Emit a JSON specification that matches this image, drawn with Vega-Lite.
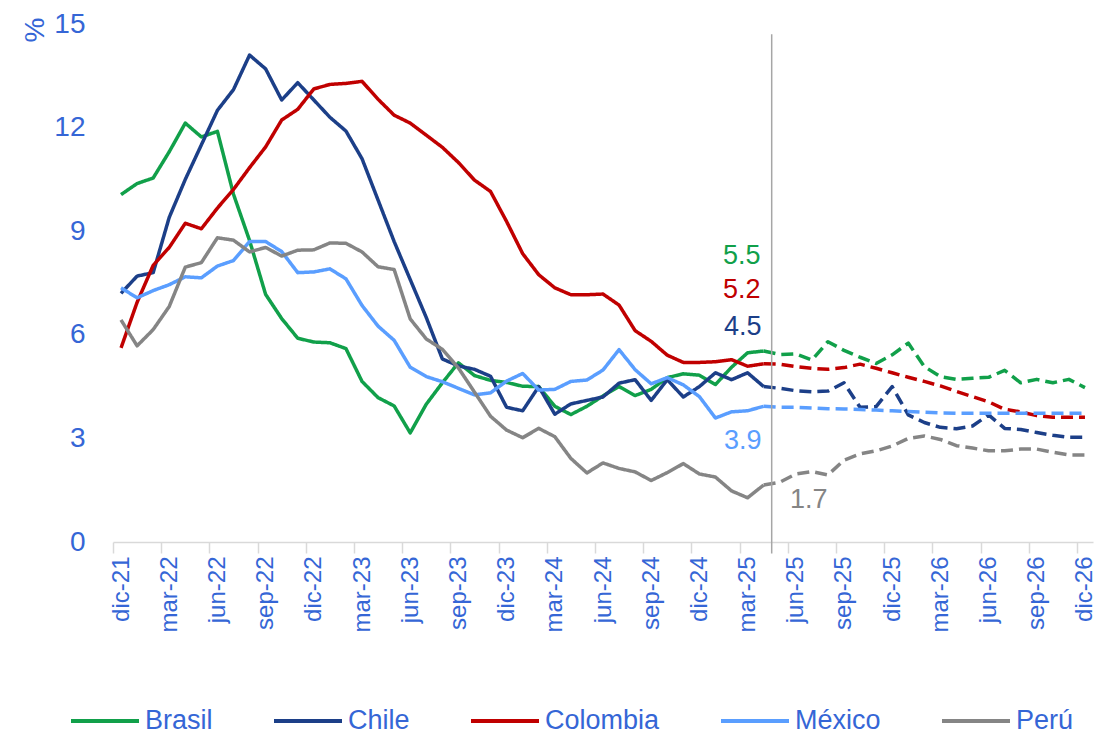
{
"$schema": "https://vega.github.io/schema/vega-lite/v6.json",
"width": 980,
"height": 518,
"autosize": {"type": "none"},
"padding": {"left": 113, "top": 24, "right": 9, "bottom": 194},
"background": "white",
"config": {"font": "Liberation Sans", "view": {"stroke": null}},
"datasets": {
"series": [
{"country":"Brasil","idx":0,"value":10.06,"kind":"actual"},{"country":"Brasil","idx":1,"value":10.38,"kind":"actual"},{"country":"Brasil","idx":2,"value":10.54,"kind":"actual"},{"country":"Brasil","idx":3,"value":11.30,"kind":"actual"},{"country":"Brasil","idx":4,"value":12.13,"kind":"actual"},{"country":"Brasil","idx":5,"value":11.73,"kind":"actual"},{"country":"Brasil","idx":6,"value":11.89,"kind":"actual"},{"country":"Brasil","idx":7,"value":10.07,"kind":"actual"},{"country":"Brasil","idx":8,"value":8.73,"kind":"actual"},{"country":"Brasil","idx":9,"value":7.17,"kind":"actual"},{"country":"Brasil","idx":10,"value":6.47,"kind":"actual"},{"country":"Brasil","idx":11,"value":5.90,"kind":"actual"},{"country":"Brasil","idx":12,"value":5.79,"kind":"actual"},{"country":"Brasil","idx":13,"value":5.77,"kind":"actual"},{"country":"Brasil","idx":14,"value":5.60,"kind":"actual"},{"country":"Brasil","idx":15,"value":4.65,"kind":"actual"},{"country":"Brasil","idx":16,"value":4.18,"kind":"actual"},{"country":"Brasil","idx":17,"value":3.94,"kind":"actual"},{"country":"Brasil","idx":18,"value":3.16,"kind":"actual"},{"country":"Brasil","idx":19,"value":3.99,"kind":"actual"},{"country":"Brasil","idx":20,"value":4.61,"kind":"actual"},{"country":"Brasil","idx":21,"value":5.19,"kind":"actual"},{"country":"Brasil","idx":22,"value":4.82,"kind":"actual"},{"country":"Brasil","idx":23,"value":4.68,"kind":"actual"},{"country":"Brasil","idx":24,"value":4.62,"kind":"actual"},{"country":"Brasil","idx":25,"value":4.51,"kind":"actual"},{"country":"Brasil","idx":26,"value":4.50,"kind":"actual"},{"country":"Brasil","idx":27,"value":3.93,"kind":"actual"},{"country":"Brasil","idx":28,"value":3.69,"kind":"actual"},{"country":"Brasil","idx":29,"value":3.93,"kind":"actual"},{"country":"Brasil","idx":30,"value":4.23,"kind":"actual"},{"country":"Brasil","idx":31,"value":4.50,"kind":"actual"},{"country":"Brasil","idx":32,"value":4.24,"kind":"actual"},{"country":"Brasil","idx":33,"value":4.42,"kind":"actual"},{"country":"Brasil","idx":34,"value":4.76,"kind":"actual"},{"country":"Brasil","idx":35,"value":4.87,"kind":"actual"},{"country":"Brasil","idx":36,"value":4.83,"kind":"actual"},{"country":"Brasil","idx":37,"value":4.56,"kind":"actual"},{"country":"Brasil","idx":38,"value":5.06,"kind":"actual"},{"country":"Brasil","idx":39,"value":5.48,"kind":"actual"},{"country":"Brasil","idx":40,"value":5.53,"kind":"actual"},
{"country":"Brasil","idx":40,"value":5.53,"kind":"forecast"},{"country":"Brasil","idx":41,"value":5.43,"kind":"forecast"},{"country":"Brasil","idx":42,"value":5.45,"kind":"forecast"},{"country":"Brasil","idx":43,"value":5.27,"kind":"forecast"},{"country":"Brasil","idx":44,"value":5.80,"kind":"forecast"},{"country":"Brasil","idx":45,"value":5.55,"kind":"forecast"},{"country":"Brasil","idx":46,"value":5.35,"kind":"forecast"},{"country":"Brasil","idx":47,"value":5.17,"kind":"forecast"},{"country":"Brasil","idx":48,"value":5.42,"kind":"forecast"},{"country":"Brasil","idx":49,"value":5.76,"kind":"forecast"},{"country":"Brasil","idx":50,"value":5.08,"kind":"forecast"},{"country":"Brasil","idx":51,"value":4.79,"kind":"forecast"},{"country":"Brasil","idx":52,"value":4.71,"kind":"forecast"},{"country":"Brasil","idx":53,"value":4.74,"kind":"forecast"},{"country":"Brasil","idx":54,"value":4.77,"kind":"forecast"},{"country":"Brasil","idx":55,"value":4.97,"kind":"forecast"},{"country":"Brasil","idx":56,"value":4.61,"kind":"forecast"},{"country":"Brasil","idx":57,"value":4.71,"kind":"forecast"},{"country":"Brasil","idx":58,"value":4.61,"kind":"forecast"},{"country":"Brasil","idx":59,"value":4.71,"kind":"forecast"},{"country":"Brasil","idx":60,"value":4.47,"kind":"forecast"},
{"country":"Chile","idx":0,"value":7.2,"kind":"actual"},{"country":"Chile","idx":1,"value":7.7,"kind":"actual"},{"country":"Chile","idx":2,"value":7.8,"kind":"actual"},{"country":"Chile","idx":3,"value":9.4,"kind":"actual"},{"country":"Chile","idx":4,"value":10.5,"kind":"actual"},{"country":"Chile","idx":5,"value":11.5,"kind":"actual"},{"country":"Chile","idx":6,"value":12.5,"kind":"actual"},{"country":"Chile","idx":7,"value":13.1,"kind":"actual"},{"country":"Chile","idx":8,"value":14.1,"kind":"actual"},{"country":"Chile","idx":9,"value":13.7,"kind":"actual"},{"country":"Chile","idx":10,"value":12.8,"kind":"actual"},{"country":"Chile","idx":11,"value":13.3,"kind":"actual"},{"country":"Chile","idx":12,"value":12.8,"kind":"actual"},{"country":"Chile","idx":13,"value":12.3,"kind":"actual"},{"country":"Chile","idx":14,"value":11.9,"kind":"actual"},{"country":"Chile","idx":15,"value":11.1,"kind":"actual"},{"country":"Chile","idx":16,"value":9.9,"kind":"actual"},{"country":"Chile","idx":17,"value":8.7,"kind":"actual"},{"country":"Chile","idx":18,"value":7.6,"kind":"actual"},{"country":"Chile","idx":19,"value":6.5,"kind":"actual"},{"country":"Chile","idx":20,"value":5.3,"kind":"actual"},{"country":"Chile","idx":21,"value":5.1,"kind":"actual"},{"country":"Chile","idx":22,"value":5.0,"kind":"actual"},{"country":"Chile","idx":23,"value":4.8,"kind":"actual"},{"country":"Chile","idx":24,"value":3.9,"kind":"actual"},{"country":"Chile","idx":25,"value":3.8,"kind":"actual"},{"country":"Chile","idx":26,"value":4.5,"kind":"actual"},{"country":"Chile","idx":27,"value":3.7,"kind":"actual"},{"country":"Chile","idx":28,"value":4.0,"kind":"actual"},{"country":"Chile","idx":29,"value":4.1,"kind":"actual"},{"country":"Chile","idx":30,"value":4.2,"kind":"actual"},{"country":"Chile","idx":31,"value":4.6,"kind":"actual"},{"country":"Chile","idx":32,"value":4.7,"kind":"actual"},{"country":"Chile","idx":33,"value":4.1,"kind":"actual"},{"country":"Chile","idx":34,"value":4.7,"kind":"actual"},{"country":"Chile","idx":35,"value":4.2,"kind":"actual"},{"country":"Chile","idx":36,"value":4.5,"kind":"actual"},{"country":"Chile","idx":37,"value":4.9,"kind":"actual"},{"country":"Chile","idx":38,"value":4.7,"kind":"actual"},{"country":"Chile","idx":39,"value":4.9,"kind":"actual"},{"country":"Chile","idx":40,"value":4.5,"kind":"actual"},
{"country":"Chile","idx":40,"value":4.5,"kind":"forecast"},{"country":"Chile","idx":41,"value":4.45,"kind":"forecast"},{"country":"Chile","idx":42,"value":4.38,"kind":"forecast"},{"country":"Chile","idx":43,"value":4.35,"kind":"forecast"},{"country":"Chile","idx":44,"value":4.37,"kind":"forecast"},{"country":"Chile","idx":45,"value":4.61,"kind":"forecast"},{"country":"Chile","idx":46,"value":3.90,"kind":"forecast"},{"country":"Chile","idx":47,"value":3.92,"kind":"forecast"},{"country":"Chile","idx":48,"value":4.50,"kind":"forecast"},{"country":"Chile","idx":49,"value":3.68,"kind":"forecast"},{"country":"Chile","idx":50,"value":3.46,"kind":"forecast"},{"country":"Chile","idx":51,"value":3.32,"kind":"forecast"},{"country":"Chile","idx":52,"value":3.28,"kind":"forecast"},{"country":"Chile","idx":53,"value":3.36,"kind":"forecast"},{"country":"Chile","idx":54,"value":3.68,"kind":"forecast"},{"country":"Chile","idx":55,"value":3.29,"kind":"forecast"},{"country":"Chile","idx":56,"value":3.26,"kind":"forecast"},{"country":"Chile","idx":57,"value":3.17,"kind":"forecast"},{"country":"Chile","idx":58,"value":3.09,"kind":"forecast"},{"country":"Chile","idx":59,"value":3.03,"kind":"forecast"},{"country":"Chile","idx":60,"value":3.03,"kind":"forecast"},
{"country":"Colombia","idx":0,"value":5.62,"kind":"actual"},{"country":"Colombia","idx":1,"value":6.94,"kind":"actual"},{"country":"Colombia","idx":2,"value":8.01,"kind":"actual"},{"country":"Colombia","idx":3,"value":8.53,"kind":"actual"},{"country":"Colombia","idx":4,"value":9.23,"kind":"actual"},{"country":"Colombia","idx":5,"value":9.07,"kind":"actual"},{"country":"Colombia","idx":6,"value":9.67,"kind":"actual"},{"country":"Colombia","idx":7,"value":10.21,"kind":"actual"},{"country":"Colombia","idx":8,"value":10.84,"kind":"actual"},{"country":"Colombia","idx":9,"value":11.44,"kind":"actual"},{"country":"Colombia","idx":10,"value":12.22,"kind":"actual"},{"country":"Colombia","idx":11,"value":12.53,"kind":"actual"},{"country":"Colombia","idx":12,"value":13.12,"kind":"actual"},{"country":"Colombia","idx":13,"value":13.25,"kind":"actual"},{"country":"Colombia","idx":14,"value":13.28,"kind":"actual"},{"country":"Colombia","idx":15,"value":13.34,"kind":"actual"},{"country":"Colombia","idx":16,"value":12.82,"kind":"actual"},{"country":"Colombia","idx":17,"value":12.36,"kind":"actual"},{"country":"Colombia","idx":18,"value":12.13,"kind":"actual"},{"country":"Colombia","idx":19,"value":11.78,"kind":"actual"},{"country":"Colombia","idx":20,"value":11.43,"kind":"actual"},{"country":"Colombia","idx":21,"value":10.99,"kind":"actual"},{"country":"Colombia","idx":22,"value":10.48,"kind":"actual"},{"country":"Colombia","idx":23,"value":10.15,"kind":"actual"},{"country":"Colombia","idx":24,"value":9.28,"kind":"actual"},{"country":"Colombia","idx":25,"value":8.35,"kind":"actual"},{"country":"Colombia","idx":26,"value":7.74,"kind":"actual"},{"country":"Colombia","idx":27,"value":7.36,"kind":"actual"},{"country":"Colombia","idx":28,"value":7.16,"kind":"actual"},{"country":"Colombia","idx":29,"value":7.16,"kind":"actual"},{"country":"Colombia","idx":30,"value":7.18,"kind":"actual"},{"country":"Colombia","idx":31,"value":6.86,"kind":"actual"},{"country":"Colombia","idx":32,"value":6.12,"kind":"actual"},{"country":"Colombia","idx":33,"value":5.81,"kind":"actual"},{"country":"Colombia","idx":34,"value":5.41,"kind":"actual"},{"country":"Colombia","idx":35,"value":5.20,"kind":"actual"},{"country":"Colombia","idx":36,"value":5.20,"kind":"actual"},{"country":"Colombia","idx":37,"value":5.22,"kind":"actual"},{"country":"Colombia","idx":38,"value":5.28,"kind":"actual"},{"country":"Colombia","idx":39,"value":5.09,"kind":"actual"},{"country":"Colombia","idx":40,"value":5.16,"kind":"actual"},
{"country":"Colombia","idx":40,"value":5.16,"kind":"forecast"},{"country":"Colombia","idx":41,"value":5.15,"kind":"forecast"},{"country":"Colombia","idx":42,"value":5.08,"kind":"forecast"},{"country":"Colombia","idx":43,"value":5.03,"kind":"forecast"},{"country":"Colombia","idx":44,"value":5.00,"kind":"forecast"},{"country":"Colombia","idx":45,"value":5.05,"kind":"forecast"},{"country":"Colombia","idx":46,"value":5.15,"kind":"forecast"},{"country":"Colombia","idx":47,"value":5.03,"kind":"forecast"},{"country":"Colombia","idx":48,"value":4.90,"kind":"forecast"},{"country":"Colombia","idx":49,"value":4.77,"kind":"forecast"},{"country":"Colombia","idx":50,"value":4.65,"kind":"forecast"},{"country":"Colombia","idx":51,"value":4.52,"kind":"forecast"},{"country":"Colombia","idx":52,"value":4.36,"kind":"forecast"},{"country":"Colombia","idx":53,"value":4.21,"kind":"forecast"},{"country":"Colombia","idx":54,"value":4.06,"kind":"forecast"},{"country":"Colombia","idx":55,"value":3.84,"kind":"forecast"},{"country":"Colombia","idx":56,"value":3.77,"kind":"forecast"},{"country":"Colombia","idx":57,"value":3.66,"kind":"forecast"},{"country":"Colombia","idx":58,"value":3.61,"kind":"forecast"},{"country":"Colombia","idx":59,"value":3.61,"kind":"forecast"},{"country":"Colombia","idx":60,"value":3.61,"kind":"forecast"},
{"country":"México","idx":0,"value":7.36,"kind":"actual"},{"country":"México","idx":1,"value":7.07,"kind":"actual"},{"country":"México","idx":2,"value":7.28,"kind":"actual"},{"country":"México","idx":3,"value":7.45,"kind":"actual"},{"country":"México","idx":4,"value":7.68,"kind":"actual"},{"country":"México","idx":5,"value":7.65,"kind":"actual"},{"country":"México","idx":6,"value":7.99,"kind":"actual"},{"country":"México","idx":7,"value":8.15,"kind":"actual"},{"country":"México","idx":8,"value":8.70,"kind":"actual"},{"country":"México","idx":9,"value":8.70,"kind":"actual"},{"country":"México","idx":10,"value":8.41,"kind":"actual"},{"country":"México","idx":11,"value":7.80,"kind":"actual"},{"country":"México","idx":12,"value":7.82,"kind":"actual"},{"country":"México","idx":13,"value":7.91,"kind":"actual"},{"country":"México","idx":14,"value":7.62,"kind":"actual"},{"country":"México","idx":15,"value":6.85,"kind":"actual"},{"country":"México","idx":16,"value":6.25,"kind":"actual"},{"country":"México","idx":17,"value":5.84,"kind":"actual"},{"country":"México","idx":18,"value":5.06,"kind":"actual"},{"country":"México","idx":19,"value":4.79,"kind":"actual"},{"country":"México","idx":20,"value":4.64,"kind":"actual"},{"country":"México","idx":21,"value":4.45,"kind":"actual"},{"country":"México","idx":22,"value":4.26,"kind":"actual"},{"country":"México","idx":23,"value":4.32,"kind":"actual"},{"country":"México","idx":24,"value":4.66,"kind":"actual"},{"country":"México","idx":25,"value":4.88,"kind":"actual"},{"country":"México","idx":26,"value":4.40,"kind":"actual"},{"country":"México","idx":27,"value":4.42,"kind":"actual"},{"country":"México","idx":28,"value":4.65,"kind":"actual"},{"country":"México","idx":29,"value":4.69,"kind":"actual"},{"country":"México","idx":30,"value":4.98,"kind":"actual"},{"country":"México","idx":31,"value":5.57,"kind":"actual"},{"country":"México","idx":32,"value":4.99,"kind":"actual"},{"country":"México","idx":33,"value":4.58,"kind":"actual"},{"country":"México","idx":34,"value":4.76,"kind":"actual"},{"country":"México","idx":35,"value":4.55,"kind":"actual"},{"country":"México","idx":36,"value":4.21,"kind":"actual"},{"country":"México","idx":37,"value":3.59,"kind":"actual"},{"country":"México","idx":38,"value":3.77,"kind":"actual"},{"country":"México","idx":39,"value":3.80,"kind":"actual"},{"country":"México","idx":40,"value":3.93,"kind":"actual"},
{"country":"México","idx":40,"value":3.93,"kind":"forecast"},{"country":"México","idx":41,"value":3.90,"kind":"forecast"},{"country":"México","idx":42,"value":3.90,"kind":"forecast"},{"country":"México","idx":43,"value":3.88,"kind":"forecast"},{"country":"México","idx":44,"value":3.86,"kind":"forecast"},{"country":"México","idx":45,"value":3.85,"kind":"forecast"},{"country":"México","idx":46,"value":3.84,"kind":"forecast"},{"country":"México","idx":47,"value":3.82,"kind":"forecast"},{"country":"México","idx":48,"value":3.80,"kind":"forecast"},{"country":"México","idx":49,"value":3.78,"kind":"forecast"},{"country":"México","idx":50,"value":3.76,"kind":"forecast"},{"country":"México","idx":51,"value":3.74,"kind":"forecast"},{"country":"México","idx":52,"value":3.73,"kind":"forecast"},{"country":"México","idx":53,"value":3.73,"kind":"forecast"},{"country":"México","idx":54,"value":3.73,"kind":"forecast"},{"country":"México","idx":55,"value":3.73,"kind":"forecast"},{"country":"México","idx":56,"value":3.73,"kind":"forecast"},{"country":"México","idx":57,"value":3.73,"kind":"forecast"},{"country":"México","idx":58,"value":3.73,"kind":"forecast"},{"country":"México","idx":59,"value":3.73,"kind":"forecast"},{"country":"México","idx":60,"value":3.73,"kind":"forecast"},
{"country":"Perú","idx":0,"value":6.43,"kind":"actual"},{"country":"Perú","idx":1,"value":5.68,"kind":"actual"},{"country":"Perú","idx":2,"value":6.15,"kind":"actual"},{"country":"Perú","idx":3,"value":6.82,"kind":"actual"},{"country":"Perú","idx":4,"value":7.96,"kind":"actual"},{"country":"Perú","idx":5,"value":8.09,"kind":"actual"},{"country":"Perú","idx":6,"value":8.81,"kind":"actual"},{"country":"Perú","idx":7,"value":8.74,"kind":"actual"},{"country":"Perú","idx":8,"value":8.40,"kind":"actual"},{"country":"Perú","idx":9,"value":8.53,"kind":"actual"},{"country":"Perú","idx":10,"value":8.28,"kind":"actual"},{"country":"Perú","idx":11,"value":8.45,"kind":"actual"},{"country":"Perú","idx":12,"value":8.46,"kind":"actual"},{"country":"Perú","idx":13,"value":8.66,"kind":"actual"},{"country":"Perú","idx":14,"value":8.65,"kind":"actual"},{"country":"Perú","idx":15,"value":8.40,"kind":"actual"},{"country":"Perú","idx":16,"value":7.97,"kind":"actual"},{"country":"Perú","idx":17,"value":7.89,"kind":"actual"},{"country":"Perú","idx":18,"value":6.46,"kind":"actual"},{"country":"Perú","idx":19,"value":5.88,"kind":"actual"},{"country":"Perú","idx":20,"value":5.58,"kind":"actual"},{"country":"Perú","idx":21,"value":5.04,"kind":"actual"},{"country":"Perú","idx":22,"value":4.34,"kind":"actual"},{"country":"Perú","idx":23,"value":3.64,"kind":"actual"},{"country":"Perú","idx":24,"value":3.24,"kind":"actual"},{"country":"Perú","idx":25,"value":3.02,"kind":"actual"},{"country":"Perú","idx":26,"value":3.29,"kind":"actual"},{"country":"Perú","idx":27,"value":3.05,"kind":"actual"},{"country":"Perú","idx":28,"value":2.42,"kind":"actual"},{"country":"Perú","idx":29,"value":2.00,"kind":"actual"},{"country":"Perú","idx":30,"value":2.29,"kind":"actual"},{"country":"Perú","idx":31,"value":2.13,"kind":"actual"},{"country":"Perú","idx":32,"value":2.03,"kind":"actual"},{"country":"Perú","idx":33,"value":1.78,"kind":"actual"},{"country":"Perú","idx":34,"value":2.01,"kind":"actual"},{"country":"Perú","idx":35,"value":2.27,"kind":"actual"},{"country":"Perú","idx":36,"value":1.97,"kind":"actual"},{"country":"Perú","idx":37,"value":1.88,"kind":"actual"},{"country":"Perú","idx":38,"value":1.48,"kind":"actual"},{"country":"Perú","idx":39,"value":1.28,"kind":"actual"},{"country":"Perú","idx":40,"value":1.65,"kind":"actual"},
{"country":"Perú","idx":40,"value":1.65,"kind":"forecast"},{"country":"Perú","idx":41,"value":1.73,"kind":"forecast"},{"country":"Perú","idx":42,"value":1.97,"kind":"forecast"},{"country":"Perú","idx":43,"value":2.04,"kind":"forecast"},{"country":"Perú","idx":44,"value":1.94,"kind":"forecast"},{"country":"Perú","idx":45,"value":2.37,"kind":"forecast"},{"country":"Perú","idx":46,"value":2.55,"kind":"forecast"},{"country":"Perú","idx":47,"value":2.64,"kind":"forecast"},{"country":"Perú","idx":48,"value":2.78,"kind":"forecast"},{"country":"Perú","idx":49,"value":3.00,"kind":"forecast"},{"country":"Perú","idx":50,"value":3.07,"kind":"forecast"},{"country":"Perú","idx":51,"value":2.97,"kind":"forecast"},{"country":"Perú","idx":52,"value":2.79,"kind":"forecast"},{"country":"Perú","idx":53,"value":2.72,"kind":"forecast"},{"country":"Perú","idx":54,"value":2.64,"kind":"forecast"},{"country":"Perú","idx":55,"value":2.64,"kind":"forecast"},{"country":"Perú","idx":56,"value":2.69,"kind":"forecast"},{"country":"Perú","idx":57,"value":2.69,"kind":"forecast"},{"country":"Perú","idx":58,"value":2.60,"kind":"forecast"},{"country":"Perú","idx":59,"value":2.52,"kind":"forecast"},{"country":"Perú","idx":60,"value":2.52,"kind":"forecast"}
],
"labels": [
{"country":"Brasil","idx":40,"value":5.53,"label":"5.5"},
{"country":"Chile","idx":40,"value":4.5,"label":"4.5"},
{"country":"Colombia","idx":40,"value":5.16,"label":"5.2"},
{"country":"México","idx":40,"value":3.93,"label":"3.9"},
{"country":"Perú","idx":40,"value":1.65,"label":"1.7"}
],
"markers": [{"idx": 40.5, "note": "inicio proyección"}]
},
"layer": [
{
"data": {"name": "series"},
"mark": {"type": "line", "strokeWidth": 3.5, "strokeJoin": "round"},
"encoding": {
"x": {"field": "idx", "type": "quantitative", "scale": {"domain": [-0.5, 60.5], "nice": false, "zero": false},
"axis": {"values": [0,3,6,9,12,15,18,21,24,27,30,33,36,39,42,45,48,51,54,57,60],
"labelExpr": "['ene','feb','mar','abr','may','jun','jul','ago','sep','oct','nov','dic'][(datum.value+11)%12] + '-' + (21+floor((datum.value+11)/12))",
"labelAngle": 270, "labelFontSize": 24, "labelColor": "#3566d6", "labelPadding": 3,
"labelFlush": false, "labelBound": false, "labelOverlap": false,
"tickSize": 11, "tickColor": "#d9d9d9", "tickWidth": 1.5, "tickOffset": -8.03, "labelOffset": 8.03,
"domainColor": "#d9d9d9", "domainWidth": 1.5, "grid": false, "title": null}},
"y": {"field": "value", "type": "quantitative", "scale": {"domain": [0, 15], "nice": false},
"axis": {"values": [0,3,6,9,12,15], "title": "%", "titleAngle": 270, "titleX": -70, "titleY": -7, "titleAlign": "right", "titleBaseline": "alphabetic",
"titleFontSize": 28, "titleFontWeight": "normal", "titleColor": "#3566d6",
"labelFontSize": 28, "labelColor": "#3566d6", "labelPadding": 28, "labelFlush": false, "labelBound": false,
"ticks": false, "domain": false, "grid": false}},
"color": {"field": "country", "type": "nominal",
"scale": {"domain": ["Brasil","Chile","Colombia","México","Perú"], "range": ["#11a04a","#1c3f88","#c00000","#5a9eff","#858585"]},
"legend": {"orient": "none", "legendX": -44, "legendY": 661, "direction": "horizontal", "title": null,
"symbolType": "stroke", "symbolSize": 4624, "symbolStrokeWidth": 4, "labelFontSize": 27, "labelColor": "#3566d6",
"labelOffset": 4, "columnPadding": 53}},
"strokeDash": {"field": "kind", "type": "nominal", "scale": {"domain": ["actual","forecast"], "range": [[1,0],[12,6]]}, "legend": null}
}
},
{
"data": {"name": "markers"},
"mark": {"type": "rule", "stroke": "#a6a6a6", "strokeWidth": 1.5},
"encoding": {"x": {"field": "idx", "type": "quantitative"}, "y": {"datum": 14.7}, "y2": {"datum": -0.33}}
},
{"data": {"name": "labels"}, "transform": [{"filter": "datum.country === 'Brasil'"}],
"mark": {"type": "text", "fontSize": 27, "color": "#11a04a", "dx": -22, "dy": -95, "align": "center", "baseline": "middle"},
"encoding": {"x": {"field": "idx", "type": "quantitative"}, "y": {"field": "value", "type": "quantitative"}, "text": {"field": "label"}}},
{"data": {"name": "labels"}, "transform": [{"filter": "datum.country === 'Colombia'"}],
"mark": {"type": "text", "fontSize": 27, "color": "#c00000", "dx": -22, "dy": -74, "align": "center", "baseline": "middle"},
"encoding": {"x": {"field": "idx", "type": "quantitative"}, "y": {"field": "value", "type": "quantitative"}, "text": {"field": "label"}}},
{"data": {"name": "labels"}, "transform": [{"filter": "datum.country === 'Chile'"}],
"mark": {"type": "text", "fontSize": 27, "color": "#1c3f88", "dx": -21, "dy": -60, "align": "center", "baseline": "middle"},
"encoding": {"x": {"field": "idx", "type": "quantitative"}, "y": {"field": "value", "type": "quantitative"}, "text": {"field": "label"}}},
{"data": {"name": "labels"}, "transform": [{"filter": "datum.country === 'México'"}],
"mark": {"type": "text", "fontSize": 27, "color": "#5a9eff", "dx": -21, "dy": 35, "align": "center", "baseline": "middle"},
"encoding": {"x": {"field": "idx", "type": "quantitative"}, "y": {"field": "value", "type": "quantitative"}, "text": {"field": "label"}}},
{"data": {"name": "labels"}, "transform": [{"filter": "datum.country === 'Perú'"}],
"mark": {"type": "text", "fontSize": 27, "color": "#858585", "dx": 45, "dy": 15, "align": "center", "baseline": "middle"},
"encoding": {"x": {"field": "idx", "type": "quantitative"}, "y": {"field": "value", "type": "quantitative"}, "text": {"field": "label"}}}
]
}
